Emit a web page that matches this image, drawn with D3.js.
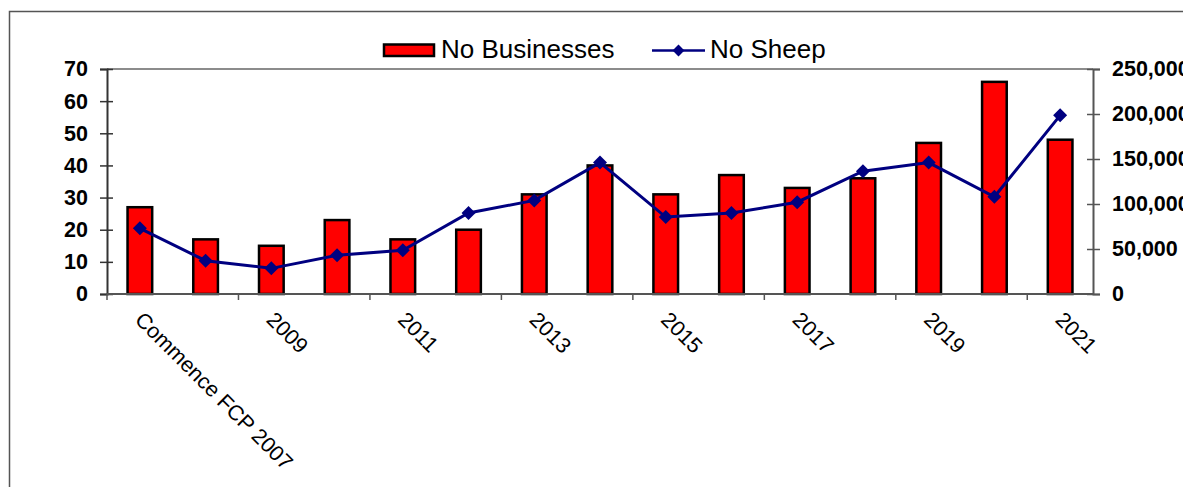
<!DOCTYPE html>
<html>
<head>
<meta charset="utf-8">
<script src="https://cdn.jsdelivr.net/npm/d3@7"></script>
<style>
  html, body { margin: 0; padding: 0; background: #fff; }
  svg { display: block; font-family: "Liberation Sans", Arial, sans-serif; }
</style>
</head>
<body>
<svg id="chart" width="1183" height="487"></svg>
<script>
// Farm programme: participating businesses and sheep numbers per year
const categories = ["Commence FCP 2007", "2008", "2009", "2010", "2011", "2012", "2013",
  "2014", "2015", "2016", "2017", "2018", "2019", "2020", "2021"];
const tickLabels = ["Commence FCP 2007", "2009", "2011", "2013", "2015", "2017", "2019", "2021"];
const businesses = [27, 17, 15, 23, 17, 20, 31, 40, 31, 37, 33, 36, 47, 66, 48];
const sheep = [73000, 37000, 28500, 43000, 48500, 90000, 104000, 146000, 85500, 90000,
  102000, 136500, 146000, 108000, 198500];
const leftTicks = [0, 10, 20, 30, 40, 50, 60, 70];
const rightTicks = [0, 50000, 100000, 150000, 200000, 250000];

const svg = d3.select("#chart");
const plot = { left: 107, right: 1093, top: 69, bottom: 294 };

// outer frame (runs past the right and bottom edges of the page)
svg.append("rect")
  .attr("x", 9.5).attr("y", 11.5)
  .attr("width", 1200).attr("height", 500)
  .attr("fill", "none").attr("stroke", "#555").attr("stroke-width", 1.5);

const x = d3.scaleBand().domain(categories).range([plot.left, plot.right]).padding(0);
const yL = d3.scaleLinear().domain([0, 70]).range([plot.bottom, plot.top]);
const yR = d3.scaleLinear().domain([0, 250000]).range([plot.bottom, plot.top]);

// top border of plot area
svg.append("line")
  .attr("x1", plot.left).attr("x2", plot.right)
  .attr("y1", plot.top).attr("y2", plot.top)
  .attr("stroke", "#8c8c8c").attr("stroke-width", 2);

// bars
const barW = x.bandwidth() * 0.375;
svg.append("g").selectAll("rect")
  .data(businesses)
  .join("rect")
  .attr("x", (d, i) => x(categories[i]) + x.bandwidth() / 2 - barW / 2)
  .attr("y", d => yL(d))
  .attr("width", barW)
  .attr("height", d => yL(0) - yL(d))
  .attr("fill", "#ff0000")
  .attr("stroke", "#000")
  .attr("stroke-width", 2.5);

// left axis
const gL = svg.append("g")
  .attr("transform", `translate(${plot.left},0)`)
  .call(d3.axisLeft(yL).tickValues(leftTicks).tickSize(7).tickPadding(12).tickFormat(d3.format("d")));
gL.select(".domain").attr("stroke", "#333").attr("stroke-width", 2);
gL.selectAll(".tick line").attr("x1", -7).attr("x2", 6).attr("stroke", "#333").attr("stroke-width", 1.5);
gL.selectAll(".tick text")
  .attr("fill", "#000").attr("font-size", 21.5).attr("font-weight", "bold")
  .attr("font-family", "Liberation Sans, Arial, sans-serif");

// right axis
const gR = svg.append("g")
  .attr("transform", `translate(${plot.right},0)`)
  .call(d3.axisRight(yR).tickValues(rightTicks).tickSize(7).tickPadding(12)
    .tickFormat(d => d === 0 ? "0" : d3.format(",")(d)));
gR.select(".domain").attr("stroke", "#555").attr("stroke-width", 2);
gR.selectAll(".tick line").attr("x1", -6).attr("x2", 7).attr("stroke", "#555").attr("stroke-width", 1.5);
gR.selectAll(".tick text")
  .attr("fill", "#000").attr("font-size", 21.5).attr("font-weight", "bold")
  .attr("font-family", "Liberation Sans, Arial, sans-serif");

// bottom axis: ticks at every second category boundary
const boundaryIdx = d3.range(0, categories.length + 1, 2);
const xBoundary = i => plot.left + i * x.step();
svg.append("line")
  .attr("x1", plot.left).attr("x2", plot.right)
  .attr("y1", plot.bottom).attr("y2", plot.bottom)
  .attr("stroke", "#555").attr("stroke-width", 2);
svg.append("g").selectAll("line")
  .data(boundaryIdx)
  .join("line")
  .attr("x1", i => xBoundary(i)).attr("x2", i => xBoundary(i))
  .attr("y1", plot.bottom).attr("y2", plot.bottom + 6)
  .attr("stroke", "#555").attr("stroke-width", 1.5);

// rotated category labels
svg.append("g").selectAll("text")
  .data(tickLabels)
  .join("text")
  .attr("transform", d => {
    const cx = x(d === tickLabels[0] ? categories[0] : d) + x.bandwidth() / 2;
    return `translate(${cx - 6},${plot.bottom + 27}) rotate(45)`;
  })
  .attr("font-size", 21.5)
  .attr("fill", "#000")
  .text(d => d);

// sheep line
const line = d3.line()
  .x((d, i) => x(categories[i]) + x.bandwidth() / 2)
  .y(d => yR(d));
svg.append("path")
  .datum(sheep)
  .attr("d", line)
  .attr("fill", "none")
  .attr("stroke", "#000080")
  .attr("stroke-width", 3);

const diamond = d3.symbol().type(d3.symbolDiamond2).size(125);
svg.append("g").selectAll("path")
  .data(sheep)
  .join("path")
  .attr("transform", (d, i) => `translate(${x(categories[i]) + x.bandwidth() / 2},${yR(d)})`)
  .attr("d", diamond)
  .attr("fill", "#000080");

// legend
const lg = svg.append("g");
lg.append("rect")
  .attr("x", 384).attr("y", 44.5).attr("width", 50).attr("height", 11.5)
  .attr("fill", "#ff0000").attr("stroke", "#000").attr("stroke-width", 2.5);
lg.append("text")
  .attr("x", 441).attr("y", 58).attr("font-size", 26).attr("fill", "#000")
  .text("No Businesses");
lg.append("line")
  .attr("x1", 652).attr("x2", 705).attr("y1", 50.5).attr("y2", 50.5)
  .attr("stroke", "#000080").attr("stroke-width", 2.5);
lg.append("path")
  .attr("transform", "translate(678.5,50.5)")
  .attr("d", d3.symbol().type(d3.symbolDiamond2).size(90))
  .attr("fill", "#000080");
lg.append("text")
  .attr("x", 710).attr("y", 58).attr("font-size", 26).attr("fill", "#000")
  .text("No Sheep");
</script>
</body>
</html>
